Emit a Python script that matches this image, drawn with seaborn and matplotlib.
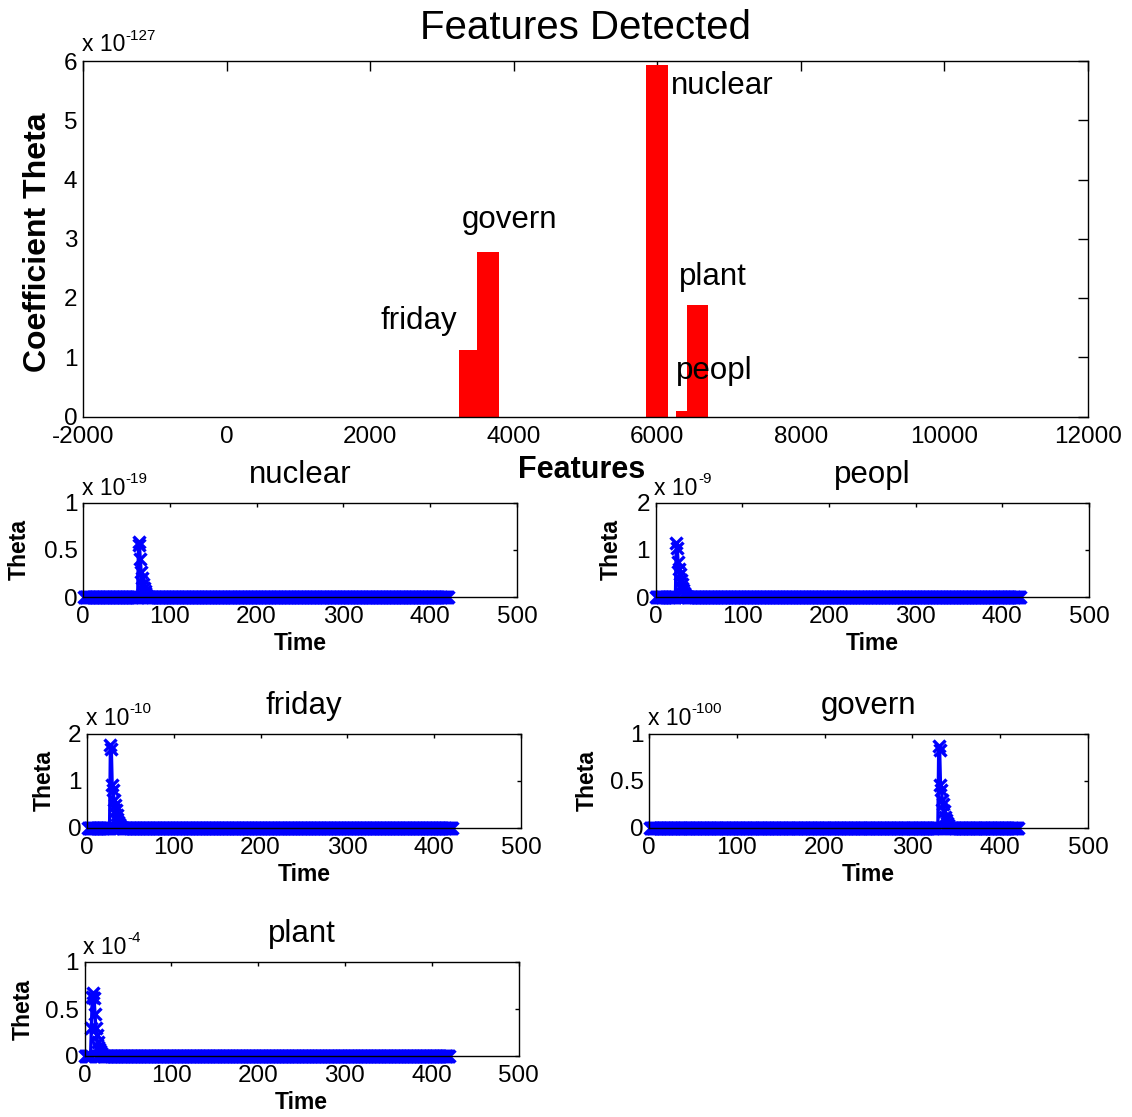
import numpy as np
import pandas as pd
import matplotlib
matplotlib.use("Agg")
import matplotlib.pyplot as plt
import seaborn as sns

# ---------------- data ----------------
feature_names = ["friday", "govern", "nuclear", "peopl", "plant"]
feature_index = [3388, 3640, 5998, 6410, 6562]
feature_theta = [1.115, 2.77, 5.93, 0.10, 1.875]          # x 10^-127
theta_exponent = -127
label_x = [2148, 3276, 6185, 6255, 6297]
label_y = [1.62, 3.31, 5.57, 0.76, 2.35]

time_length = 420

nuclear_t = [64, 65, 66, 67, 68, 69, 70, 71, 72, 73]
nuclear_v = [0.59, 0.55, 0.40, 0.27, 0.20, 0.14, 0.10, 0.06, 0.04, 0.02]
peopl_t = [24, 25, 26, 27, 28, 29, 30, 31, 32, 33, 34, 35]
peopl_v = [1.15, 1.05, 0.75, 0.60, 0.48, 0.36, 0.27, 0.20, 0.14, 0.09, 0.05, 0.02]
friday_t = [27, 28, 29, 30, 31, 32, 33, 34, 35, 36, 37, 38, 39]
friday_v = [1.75, 1.68, 0.90, 0.80, 0.60, 0.48, 0.38, 0.28, 0.20, 0.13, 0.08, 0.05, 0.02]
govern_t = [330, 331, 332, 333, 334, 335, 336, 337, 338, 339, 340, 341]
govern_v = [0.87, 0.83, 0.45, 0.40, 0.30, 0.25, 0.18, 0.12, 0.08, 0.05, 0.03, 0.01]
plant_t = [8, 9, 10, 11, 12, 13, 14, 15, 16, 17, 18, 19, 20]
plant_v = [0.30, 0.63, 0.67, 0.62, 0.45, 0.30, 0.22, 0.15, 0.10, 0.07, 0.05, 0.03, 0.01]

panel_names = ["nuclear", "peopl", "friday", "govern", "plant"]
panel_t = [nuclear_t, peopl_t, friday_t, govern_t, plant_t]
panel_v = [nuclear_v, peopl_v, friday_v, govern_v, plant_v]
panel_exp = [-19, -9, -10, -100, -4]
panel_ymax = [1, 2, 2, 1, 1]
panel_yticks = [[0, 0.5, 1], [0, 1, 2], [0, 1, 2], [0, 0.5, 1], [0, 0.5, 1]]
panel_yticklabels = [["0", "0.5", "1"], ["0", "1", "2"], ["0", "1", "2"],
                     ["0", "0.5", "1"], ["0", "0.5", "1"]]
time_ticks = [0, 100, 200, 300, 400, 500]
feat_ticks = [-2000, 0, 2000, 4000, 6000, 8000, 10000, 12000]

# ---------------- style ----------------
sns.set_theme(style="white")
plt.rcParams["font.family"] = ["Liberation Sans", "DejaVu Sans"]
plt.rcParams["axes.unicode_minus"] = False
for key in ["text.color", "axes.labelcolor", "xtick.color", "ytick.color", "axes.edgecolor"]:
    plt.rcParams[key] = "black"

W, H = 1132, 1117
fig = plt.figure(figsize=(W / 100, H / 100), dpi=100)
fig.patch.set_facecolor("white")


def px_axes(left, right, top, bottom):
    return fig.add_axes([left / W, 1 - bottom / H, (right - left) / W, (bottom - top) / H])


def style_axes(ax, ticklen, fs):
    for s in ax.spines.values():
        s.set_color("black")
        s.set_linewidth(1.0)
        s.set_zorder(5)
    ax.tick_params(direction="in", length=ticklen, width=1.0, colors="black",
                   top=True, right=True, labelsize=fs)
    ax.tick_params(axis="x", pad=6.5)
    ax.tick_params(axis="y", pad=4)
    ax.set_facecolor("white")


def multiplier(ax, exp, fs, sfs, dy):
    base = ax.annotate("x 10", xy=(0, 1), xycoords="axes fraction", xytext=(-1, dy),
                       textcoords="offset points", ha="left", va="baseline",
                       fontsize=fs, color="black")
    ax.annotate(str(exp), xy=(1, 1), xycoords=base, xytext=(0.5, -4.5),
                textcoords="offset points", ha="left", va="baseline",
                fontsize=sfs, color="black")


# ---------------- top chart ----------------
ax0 = px_axes(83, 1088, 61, 416.5)
for xi, yi in zip(feature_index, feature_theta):
    ax0.bar(xi, yi, width=301, color="#ff0000", edgecolor="none", zorder=2)
ax0.set_xlim(-2000, 12000)
ax0.set_ylim(0, 6)
ax0.set_xticks(feat_ticks)
ax0.set_xticklabels([str(v) for v in feat_ticks])
ax0.set_yticks(range(0, 7))
style_axes(ax0, 7, 17.5)
for name, lx, ly in zip(feature_names, label_x, label_y):
    ax0.text(lx, ly, name, fontsize=22.5, ha="left", va="center", color="black", zorder=6)
ax0.text(0.5, 1.093, "Features Detected", transform=ax0.transAxes, ha="center",
         va="center", fontsize=29, color="black")
ax0.set_xlabel("Features", fontsize=22, fontweight="bold", va="center")
ax0.xaxis.set_label_coords(0.4965, -0.150)
ax0.set_ylabel("Coefficient Theta", fontsize=23, fontweight="bold", va="center")
ax0.yaxis.set_label_coords(-0.045, 0.49)
multiplier(ax0, theta_exponent, 16.5, 11, 7)

# ---------------- small panels ----------------
boxes = [
    (83, 517, 503, 597),
    (655.5, 1089, 503, 597),
    (87, 521, 733.5, 828),
    (649, 1088, 733.5, 828),
    (84.5, 518.5, 962, 1056),
]
ylabel_x = [-0.146, -0.103, -0.0995, -0.141, -0.142]

time_axis = np.arange(1, time_length + 1)
for k in range(5):
    l, r, t, b = boxes[k]
    ax = px_axes(l, r, t, b)
    vals = np.zeros(time_length)
    for ti, vi in zip(panel_t[k], panel_v[k]):
        vals[ti - 1] = vi
    df = pd.DataFrame({"Time": time_axis, "Theta": vals})
    sns.lineplot(data=df, x="Time", y="Theta", ax=ax, color="#0000ff", marker="x",
                 markersize=8.5, markeredgewidth=2.4, linewidth=2.4,
                 markeredgecolor="#0000ff", clip_on=False, zorder=3)
    ax.set_xlim(0, 500)
    ax.set_ylim(0, panel_ymax[k])
    ax.set_xticks(time_ticks)
    ax.set_xticklabels([str(v) for v in time_ticks])
    ax.set_yticks(panel_yticks[k])
    ax.set_yticklabels(panel_yticklabels[k])
    style_axes(ax, 3.2, 17.5)
    ax.set_title(panel_names[k], fontsize=22.5, color="black", pad=0, y=1.21)
    ax.set_xlabel("Time", fontsize=16.5, fontweight="bold", va="center")
    ax.xaxis.set_label_coords(0.5, -0.49)
    ax.set_ylabel("Theta", fontsize=16.5, fontweight="bold", va="center")
    ax.yaxis.set_label_coords(ylabel_x[k], 0.5)
    multiplier(ax, panel_exp[k], 16.5, 11, 6)

fig.savefig("out.png", dpi=100, facecolor="white")
